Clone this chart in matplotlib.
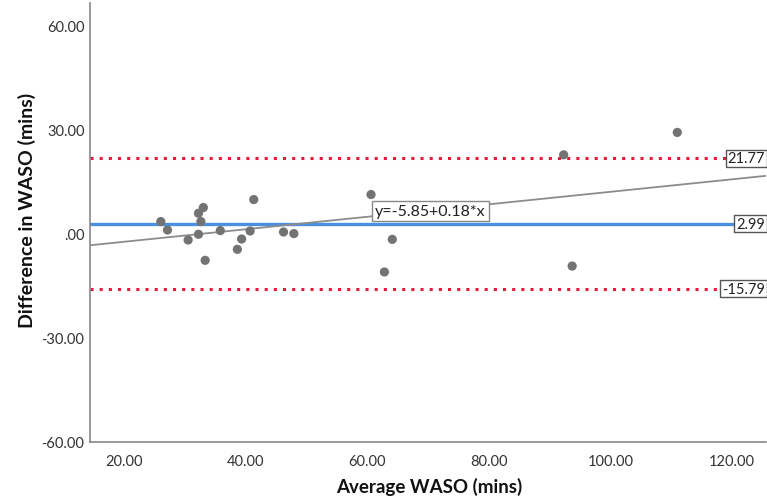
import matplotlib
matplotlib.use("Agg")
import matplotlib.pyplot as plt
from matplotlib.ticker import FuncFormatter, FixedLocator
import numpy as np

# Bland-Altman data: mean of two WASO measurements vs. their difference
avg_waso = [26.0, 27.1, 30.5, 32.2, 33.0, 32.6, 32.2, 33.3, 35.8, 38.6, 39.3,
            40.7, 41.3, 46.2, 47.9, 60.6, 64.1, 62.8, 92.3, 93.7, 111.0]
diff_waso = [3.57, 1.14, -1.75, 5.97, 7.61, 3.57, -0.10, -7.61, 0.97, -4.44, -1.46,
             0.85, 9.92, 0.56, 0.10, 11.37, -1.55, -10.97, 22.81, -9.26, 29.28]

mean_diff = 2.99
upper_loa = 21.77
lower_loa = -15.79
fit_intercept = -5.85
fit_slope = 0.18

x_ticks = [20, 40, 60, 80, 100, 120]
y_ticks = [-60, -30, 0, 30, 60]
x_range = (14.35, 125.6)
y_range = (-60, 66.6)

plt.rcParams['font.family'] = ['Lato', 'DejaVu Sans']

fig = plt.figure(figsize=(7.67, 5.02), dpi=100)
ax = fig.add_axes([90 / 767, 1 - 443 / 502, (766 - 90) / 767, (443 - 4) / 502])

ax.set_xlim(*x_range)
ax.set_ylim(*y_range)

# limits of agreement and mean difference
ax.axhline(upper_loa, color='#e8173c', lw=2.2, ls=(0, (1, 2)), dash_capstyle='butt', zorder=2)
ax.axhline(lower_loa, color='#e8173c', lw=2.2, ls=(0, (1, 2)), dash_capstyle='butt', zorder=2)
ax.axhline(mean_diff, color='#4a8fe0', lw=2.4, zorder=2)

# fitted regression line
xs = np.array(x_range)
ax.plot(xs, fit_intercept + fit_slope * xs, color='#8c8c8c', lw=1.3, zorder=3)

ax.scatter(avg_waso, diff_waso, s=44, color='#737373', edgecolors='none', zorder=4)

# value tags on the right end of the reference lines
box = dict(boxstyle='square,pad=0.12', fc='white', ec='#555555', lw=1.0)
for val in (upper_loa, mean_diff, lower_loa):
    ax.text(x_range[1] - 0.2, val, f'{val:.2f}', ha='right', va='center',
            fontsize=10.5, color='#222222', bbox=box, zorder=6)

ax.text(61.3, 6.6, f'y={fit_intercept:.2f}+{fit_slope:.2f}*x', ha='left', va='center',
        fontsize=11.5, color='#222222',
        bbox=dict(boxstyle='square,pad=0.18', fc='white', ec='#888888', lw=1.0), zorder=6)

def fmt(v, pos):
    s = f'{v:.2f}'
    if s in ('0.00', '-0.00'):
        return '.00'
    return s

ax.xaxis.set_major_locator(FixedLocator(x_ticks))
ax.yaxis.set_major_locator(FixedLocator(y_ticks))
ax.xaxis.set_major_formatter(FuncFormatter(fmt))
ax.yaxis.set_major_formatter(FuncFormatter(fmt))
ax.tick_params(axis='both', length=0, labelsize=10.5, labelcolor='#333333')
ax.tick_params(axis='x', pad=9)
ax.tick_params(axis='y', pad=4)

for side in ('top', 'right'):
    ax.spines[side].set_visible(False)
for side in ('left', 'bottom'):
    ax.spines[side].set_color('#888888')
    ax.spines[side].set_linewidth(1.2)

ax.set_xlabel('Average WASO (mins)', fontsize=13.5, fontweight='bold', color='#111111')
ax.set_ylabel('Difference in WASO (mins)', fontsize=14, fontweight='bold', color='#111111')
ax.xaxis.set_label_coords((429 - 90) / 676, -(478 - 443) / 439)
ax.yaxis.set_label_coords(-(90 - 36) / 676, (443 - 210) / 439)

fig.savefig('out.png', dpi=100)
